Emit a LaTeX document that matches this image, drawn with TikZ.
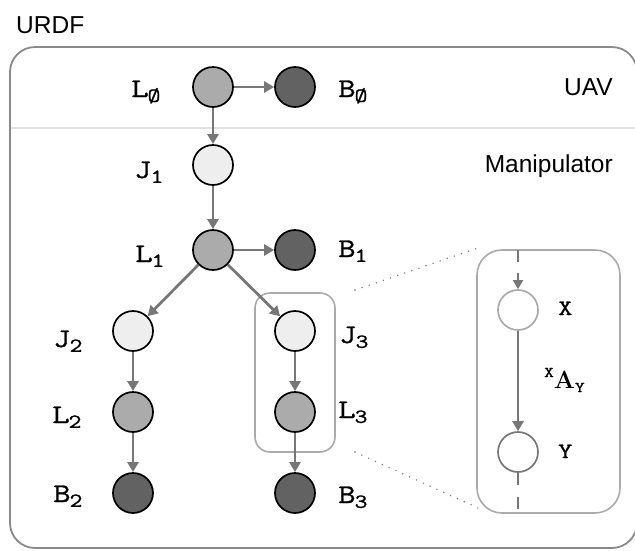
\documentclass[tikz,border=0pt]{standalone}
\usepackage[no-math]{fontspec}
\setmainfont{Liberation Sans}
\newfontfamily\labfont[FakeStretch=1.25,FakeBold=1.1]{Latin Modern Mono}
\usetikzlibrary{arrows.meta}
\definecolor{arrgray}{HTML}{777777}
\definecolor{boxgray}{HTML}{8A8A8A}
\definecolor{grpgray}{HTML}{AAAAAA}
\definecolor{sepgray}{HTML}{E2E2E2}
\definecolor{lfill}{HTML}{ABABAB}
\definecolor{bfill}{HTML}{626262}
\definecolor{jfill}{HTML}{EEEEEE}
\newcommand{\lbl}[2]{#1\kern-1pt\raisebox{-0.18em}{\fontsize{20}{20}\selectfont #2}}
\newcommand{\zsub}{\O}
\tikzset{
  knot/.style={circle, draw=black, line width=1.7pt, minimum size=40pt, inner sep=0pt},
  lnode/.style={knot, fill=lfill},
  bnode/.style={knot, fill=bfill},
  jnode/.style={knot, fill=jfill},
  arr/.style={draw=arrgray, line width=2.8pt, -{Triangle[length=10pt,width=11pt]}},
  lab/.style={anchor=base west, inner sep=0pt, font=\fontsize{27}{27}\labfont},
  sans/.style={inner sep=0pt, font=\fontsize{24.5}{26}\selectfont},
  zlab/.style={inner sep=0pt, font=\fontsize{22}{22}\labfont},
}
\begin{document}
\begin{tikzpicture}[x=1pt,y=-1pt]
\useasboundingbox (0,0) rectangle (635,550);
% outer frame
\draw[boxgray, line width=1.8pt, rounded corners=25pt] (10,47) rectangle (637,548);
\draw[sepgray, line width=2pt] (11,128) -- (636,128);
\node[sans, anchor=base west] (urdf) at (16,33) {URDF};
\node[sans, anchor=base east] (uav) at (613,95) {UAV};
\node[sans, anchor=base east] (manip) at (613,172) {Manipulator};
% group box and zoom box
\node[draw=grpgray, line width=1.6pt, rounded corners=15pt, minimum width=80pt, minimum height=159pt, inner sep=0pt] (grp) at (295,372.5) {};
\node[draw=grpgray, line width=1.6pt, rounded corners=25pt, minimum width=143pt, minimum height=263pt, inner sep=0pt] (zbox) at (548.5,381.5) {};
% nodes
\node[lnode] (L0) at (213,87) {};
\node[bnode] (B0) at (295,87) {};
\node[jnode] (J1) at (213,165) {};
\node[lnode] (L1) at (213,250) {};
\node[bnode] (B1) at (295,250) {};
\node[jnode] (J2) at (133,331) {};
\node[jnode] (J3) at (295,331) {};
\node[lnode] (L2) at (133,412) {};
\node[lnode] (L3) at (295,412) {};
\node[bnode] (B2) at (133,493) {};
\node[bnode] (B3) at (295,493) {};
% labels
\node[lab] (tL0) at (131,97) {\lbl{L}{\zsub}};
\node[lab] (tB0) at (338,97) {\lbl{B}{\zsub}};
\node[lab] (tJ1) at (134,178) {\lbl{J}{1}};
\node[lab] (tL1) at (135,262) {\lbl{L}{1}};
\node[lab] (tB1) at (338,257) {\lbl{B}{1}};
\node[lab] (tJ2) at (53,347) {\lbl{J}{2}};
\node[lab] (tJ3) at (339,343) {\lbl{J}{3}};
\node[lab] (tL2) at (52,423) {\lbl{L}{2}};
\node[lab] (tL3) at (338,418) {\lbl{L}{3}};
\node[lab] (tB2) at (53,502) {\lbl{B}{2}};
\node[lab] (tB3) at (338,503) {\lbl{B}{3}};
% edges
\draw[arr] (L0) -- (B0);
\draw[arr] (L0) -- (J1);
\draw[arr] (J1) -- (L1);
\draw[arr] (L1) -- (B1);
\draw[arr] (L1) -- (J2);
\draw[arr] (L1) -- (J3);
\draw[arr] (J2) -- (L2);
\draw[arr] (L2) -- (B2);
\draw[arr] (J3) -- (L3);
\draw[arr] (L3) -- (B3);
% dotted zoom lines
\coordinate (d1a) at (355,290);
\coordinate (d1b) at (478,248);
\coordinate (d2a) at (355,452);
\coordinate (d2b) at (478,508);
\draw[arrgray, line width=1.6pt, line cap=round, dash pattern=on 0pt off 7.5pt] (d1a) -- (d1b);
\draw[arrgray, line width=1.6pt, line cap=round, dash pattern=on 0pt off 7.5pt] (d2a) -- (d2b);
% zoom content
\node[knot, draw=grpgray, fill=white] (X) at (518,310) {};
\node[knot, draw=arrgray, fill=white] (Y) at (518,452) {};
\coordinate (ztop) at (518,250);
\coordinate (zbot) at (518,510);
\draw[draw=arrgray, line width=2pt, dash pattern=on 12pt off 11pt, -{Triangle[length=9pt,width=10pt]}] (ztop) -- (X);
\draw[draw=arrgray, line width=2pt, dash pattern=on 12pt off 12pt] (Y) -- (zbot);
\draw[arr] (X) -- (Y);
\node[zlab, anchor=base west] (tX) at (558,315) {X};
\node[zlab, anchor=base west] (tY) at (558,458) {Y};
\node[inner sep=0pt, anchor=base west] (tA) at (544,388) {\raisebox{11pt}{\fontsize{15}{15}\labfont X}{\fontsize{24}{24}\selectfont$\mathbf{A}$}\raisebox{-4pt}{\fontsize{15}{15}\labfont Y}};
\end{tikzpicture}
\end{document}
